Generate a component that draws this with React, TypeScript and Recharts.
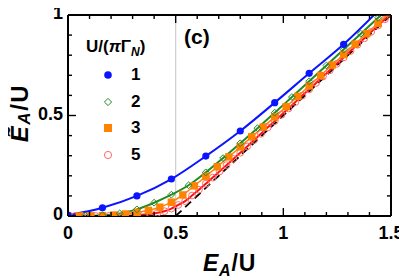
import React from 'react';
import { ComposedChart, Line, XAxis, YAxis, ReferenceLine, Legend, Label } from 'recharts';

const FONT = '"Liberation Sans", Arial, Helvetica, sans-serif';

const BLUE = '#0a14ff';
const GREEN = '#238a23';
const ORANGE = '#ff8200';
const RED = '#ff1010';
const RED_MARK = '#ff6a6a';

// U/(pi Gamma_N) = 1
const blueX = [0, 0.16, 0.32, 0.48, 0.64, 0.8, 0.96, 1.12, 1.28, 1.44];
const blueY = [0.004, 0.041, 0.1, 0.184, 0.298, 0.423, 0.564, 0.71, 0.854, 1.02];

// U/(pi Gamma_N) = 2
const greenX = [0, 0.08, 0.16, 0.24, 0.32, 0.4, 0.48, 0.56, 0.64, 0.72, 0.8, 0.88, 0.96, 1.04, 1.12, 1.2, 1.28, 1.36, 1.44, 1.52];
const greenY = [0, 0.001, 0.004, 0.013, 0.033, 0.066, 0.106, 0.153, 0.217, 0.288, 0.362, 0.437, 0.514, 0.592, 0.67, 0.749, 0.828, 0.907, 0.986, 1.065];

// U/(pi Gamma_N) = 3
const orangeX = [0, 0.0533, 0.1067, 0.16, 0.2133, 0.2667, 0.32, 0.3733, 0.4267, 0.48, 0.5333, 0.5867, 0.64, 0.6933, 0.7467, 0.8, 0.8533, 0.9067, 0.96, 1.0133, 1.0667, 1.12, 1.1733, 1.2267, 1.28, 1.3333, 1.3867, 1.44, 1.4933];
const orangeY = [0, 0, 0.001, 0.002, 0.005, 0.01, 0.018, 0.028, 0.044, 0.069, 0.105, 0.15, 0.197, 0.245, 0.294, 0.344, 0.394, 0.443, 0.493, 0.544, 0.595, 0.647, 0.699, 0.751, 0.803, 0.855, 0.907, 0.959, 1.011];

// U/(pi Gamma_N) = 5
const redX = [0, 0.032, 0.064, 0.096, 0.128, 0.16, 0.192, 0.224, 0.256, 0.288, 0.32, 0.352, 0.384, 0.416, 0.448, 0.48, 0.512, 0.544, 0.576, 0.608, 0.64, 0.672, 0.704, 0.736, 0.768, 0.8, 0.832, 0.864, 0.896, 0.928, 0.96, 0.992, 1.024, 1.056, 1.088, 1.12, 1.152, 1.184, 1.216, 1.248, 1.28, 1.312, 1.344, 1.376, 1.408, 1.44, 1.472, 1.504];
const redY = [0, 0, 0, 0, 0, 0, 0.001, 0.001, 0.002, 0.003, 0.005, 0.007, 0.011, 0.016, 0.024, 0.037, 0.055, 0.074, 0.102, 0.131, 0.161, 0.191, 0.222, 0.253, 0.284, 0.315, 0.346, 0.378, 0.409, 0.441, 0.472, 0.504, 0.535, 0.567, 0.599, 0.63, 0.662, 0.694, 0.725, 0.757, 0.789, 0.821, 0.852, 0.884, 0.916, 0.948, 0.979, 1.011];

// asymptote E~ = E - U/2
const dashX = [0.5, 1.5];
const dashY = [0, 1];

const legendNames = ['1', '2', '3', '5'];

const xTicks = [0, 0.1, 0.2, 0.3, 0.4, 0.5, 0.6, 0.7, 0.8, 0.9, 1, 1.1, 1.2, 1.3, 1.4, 1.5];
const xMajor = [0, 0.5, 1, 1.5];
const xLabels = ['0', '0.5', '1', '1.5'];
const yTicks = [0, 0.1, 0.2, 0.3, 0.4, 0.5, 0.6, 0.7, 0.8, 0.9, 1];
const yMajor = [0, 0.5, 1];
const yLabels = ['0', '0.5', '1'];

const zip = (xs: number[], ys: number[]) => xs.map((x, i) => ({ x, y: ys[i] }));
const blueData = zip(blueX, blueY);
const greenData = zip(greenX, greenY);
const orangeData = zip(orangeX, orangeY);
const redData = zip(redX, redY);
const dashData = zip(dashX, dashY);

const majorIndex = (arr: number[], v: number) => arr.findIndex((m) => Math.abs(m - v) < 1e-6);

const MAJ = 8;
const MIN = 4;
const TW = 1.4;

const BottomTick = (p: any) => {
  const idx = majorIndex(xMajor, p.payload.value);
  const len = idx >= 0 ? MAJ : MIN;
  return (
    <g>
      <line x1={p.x} y1={p.y} x2={p.x} y2={p.y - len} stroke="#000" strokeWidth={TW} />
      {idx >= 0 && (
        <text x={p.x} y={p.y + 17} textAnchor="middle" dominantBaseline="central" fontFamily={FONT} fontWeight="bold" fontSize={18} fill="#000">
          {xLabels[idx]}
        </text>
      )}
    </g>
  );
};
const TopTick = (p: any) => {
  const idx = majorIndex(xMajor, p.payload.value);
  const len = idx >= 0 ? MAJ : MIN;
  return <line x1={p.x} y1={p.y} x2={p.x} y2={p.y + len} stroke="#000" strokeWidth={TW} />;
};
const LeftTick = (p: any) => {
  const idx = majorIndex(yMajor, p.payload.value);
  const len = idx >= 0 ? MAJ : MIN;
  return (
    <g>
      <line x1={p.x} y1={p.y} x2={p.x + len} y2={p.y} stroke="#000" strokeWidth={TW} />
      {idx >= 0 && (
        <text x={p.x - 5} y={p.y - 2} textAnchor="end" dominantBaseline="central" fontFamily={FONT} fontWeight="bold" fontSize={18} fill="#000">
          {yLabels[idx]}
        </text>
      )}
    </g>
  );
};
const RightTick = (p: any) => {
  const idx = majorIndex(yMajor, p.payload.value);
  const len = idx >= 0 ? MAJ : MIN;
  return <line x1={p.x} y1={p.y} x2={p.x - len} y2={p.y} stroke="#000" strokeWidth={TW} />;
};

const BlueDot = (p: any) =>
  p.cx == null ? null : <circle key={p.index} cx={p.cx} cy={p.cy} r={3.6} fill={BLUE} stroke="none" />;
const GreenDot = (p: any) =>
  p.cx == null ? null : (
    <path key={p.index} d={`M${p.cx},${p.cy - 3.4}L${p.cx + 3.4},${p.cy}L${p.cx},${p.cy + 3.4}L${p.cx - 3.4},${p.cy}Z`} fill="none" stroke={GREEN} strokeWidth={1} />
  );
const OrangeDot = (p: any) =>
  p.cx == null ? null : <rect key={p.index} x={p.cx - 3.7} y={p.cy - 3.7} width={7.4} height={7.4} fill={ORANGE} stroke="none" />;
const RedDot = (p: any) =>
  p.cx == null ? null : <circle key={p.index} cx={p.cx} cy={p.cy} r={3.4} fill="none" stroke={RED_MARK} strokeWidth={1} />;

const legendIcons = [
  <circle cx={6} cy={6} r={3.8} fill={BLUE} />,
  <path d="M6,2.4L9.6,6L6,9.6L2.4,6Z" fill="none" stroke={GREEN} strokeWidth={1} />,
  <rect x={2} y={2} width={8} height={8} fill={ORANGE} />,
  <circle cx={6} cy={6} r={3.6} fill="none" stroke={RED_MARK} strokeWidth={1} />,
];

const LegendBox = () => (
  <div style={{ position: 'relative', width: 110, height: 135, fontFamily: FONT, fontWeight: 'bold', color: '#000' }}>
    <div style={{ position: 'absolute', left: 8, top: 0, fontSize: 17, lineHeight: '22px', whiteSpace: 'nowrap' }}>
      U/(<span style={{ fontStyle: 'italic' }}>π</span>Γ
      <span style={{ fontStyle: 'italic', fontSize: 12, position: 'relative', top: 4 }}>N</span>)
    </div>
    {legendNames.map((n, i) => (
      <div key={n} style={{ position: 'absolute', left: 0, top: 39 + i * 26.7 - 11, height: 22, width: 100 }}>
        <svg width={12} height={12} style={{ position: 'absolute', left: 24, top: 5 }}>
          {legendIcons[i]}
        </svg>
        <span style={{ position: 'absolute', left: 53, top: 0, fontSize: 17, lineHeight: '22px' }}>{n}</span>
      </div>
    ))}
  </div>
);

const XTitle = (props: any) => {
  const vb = props.viewBox;
  return (
    <text x={vb.x + vb.width / 2} y={vb.y + 55} textAnchor="middle" fontFamily={FONT} fontWeight="bold" fontSize={23} letterSpacing={0.8} fill="#000">
      <tspan fontStyle="italic">E</tspan>
      <tspan fontStyle="italic" fontSize={16} dy={5}>A</tspan>
      <tspan dy={-5}>/U</tspan>
    </text>
  );
};
const YTitle = () => {
  const cx = 19;
  const cy = 113;
  return (
    <text x={cx} y={cy} transform={`rotate(-90, ${cx}, ${cy})`} textAnchor="middle" dominantBaseline="central" fontFamily={FONT} fontWeight="bold" fontSize={24} letterSpacing={1.5} fill="#000">
      <tspan fontStyle="italic">Ẽ</tspan>
      <tspan fontStyle="italic" fontSize={17} dy={5}>A</tspan>
      <tspan dy={-5}>/U</tspan>
    </text>
  );
};

export default function App() {
  return (
    <div style={{ position: 'relative', width: 407, height: 279, margin: '-8px 0 0 -8px' }}>
      <ComposedChart width={407} height={279} margin={{ top: 14, right: 15, bottom: 0, left: 0 }}>
        <XAxis
          xAxisId={0}
          type="number"
          dataKey="x"
          domain={[0, 1.5]}
          allowDataOverflow
          ticks={xTicks}
          interval={0}
          tick={BottomTick}
          tickLine={false}
          tickSize={0}
          tickMargin={0}
          height={63}
          axisLine={{ stroke: '#000', strokeWidth: 2 }}
        >
          <Label content={XTitle} />
        </XAxis>
        <XAxis
          xAxisId="t"
          orientation="top"
          type="number"
          dataKey="x"
          domain={[0, 1.5]}
          allowDataOverflow
          ticks={xTicks}
          interval={0}
          tick={TopTick}
          tickLine={false}
          tickSize={0}
          tickMargin={0}
          height={1}
          axisLine={{ stroke: '#000', strokeWidth: 2 }}
        />
        <YAxis
          yAxisId={0}
          type="number"
          domain={[0, 1]}
          allowDataOverflow
          ticks={yTicks}
          interval={0}
          tick={LeftTick}
          tickLine={false}
          tickSize={0}
          tickMargin={0}
          width={68}
          axisLine={{ stroke: '#000', strokeWidth: 2 }}
        >
          <Label content={YTitle} />
        </YAxis>
        <YAxis
          yAxisId="r"
          orientation="right"
          type="number"
          domain={[0, 1]}
          allowDataOverflow
          ticks={yTicks}
          interval={0}
          tick={RightTick}
          tickLine={false}
          tickSize={0}
          tickMargin={0}
          width={1}
          axisLine={{ stroke: '#000', strokeWidth: 2 }}
        />
        <ReferenceLine x={0.5} stroke="#cfcfcf" strokeWidth={1.2} />
        <Line data={dashData} dataKey="y" type="linear" stroke="#000" strokeWidth={1.8} strokeDasharray="8 5" dot={false} isAnimationActive={false} legendType="none" />
        <Line data={redData} dataKey="y" type="monotone" stroke={RED} strokeWidth={2} dot={RedDot} isAnimationActive={false} />
        <Line data={orangeData} dataKey="y" type="monotone" stroke={ORANGE} strokeWidth={1.5} dot={OrangeDot} isAnimationActive={false} />
        <Line data={greenData} dataKey="y" type="monotone" stroke={GREEN} strokeWidth={2} dot={GreenDot} isAnimationActive={false} />
        <Line data={blueData} dataKey="y" type="monotone" stroke={BLUE} strokeWidth={2} dot={BlueDot} isAnimationActive={false} />
        <Legend
          layout="vertical"
          align="center"
          verticalAlign="middle"
          content={LegendBox}
          wrapperStyle={{ position: 'absolute', left: 78, top: 36, width: 110, height: 135 }}
        />
      </ComposedChart>
      <div style={{ position: 'absolute', left: 184, top: 25, fontFamily: FONT, fontWeight: 'bold', fontSize: 21, lineHeight: '24px', color: '#000' }}>
        (c)
      </div>
    </div>
  );
}
